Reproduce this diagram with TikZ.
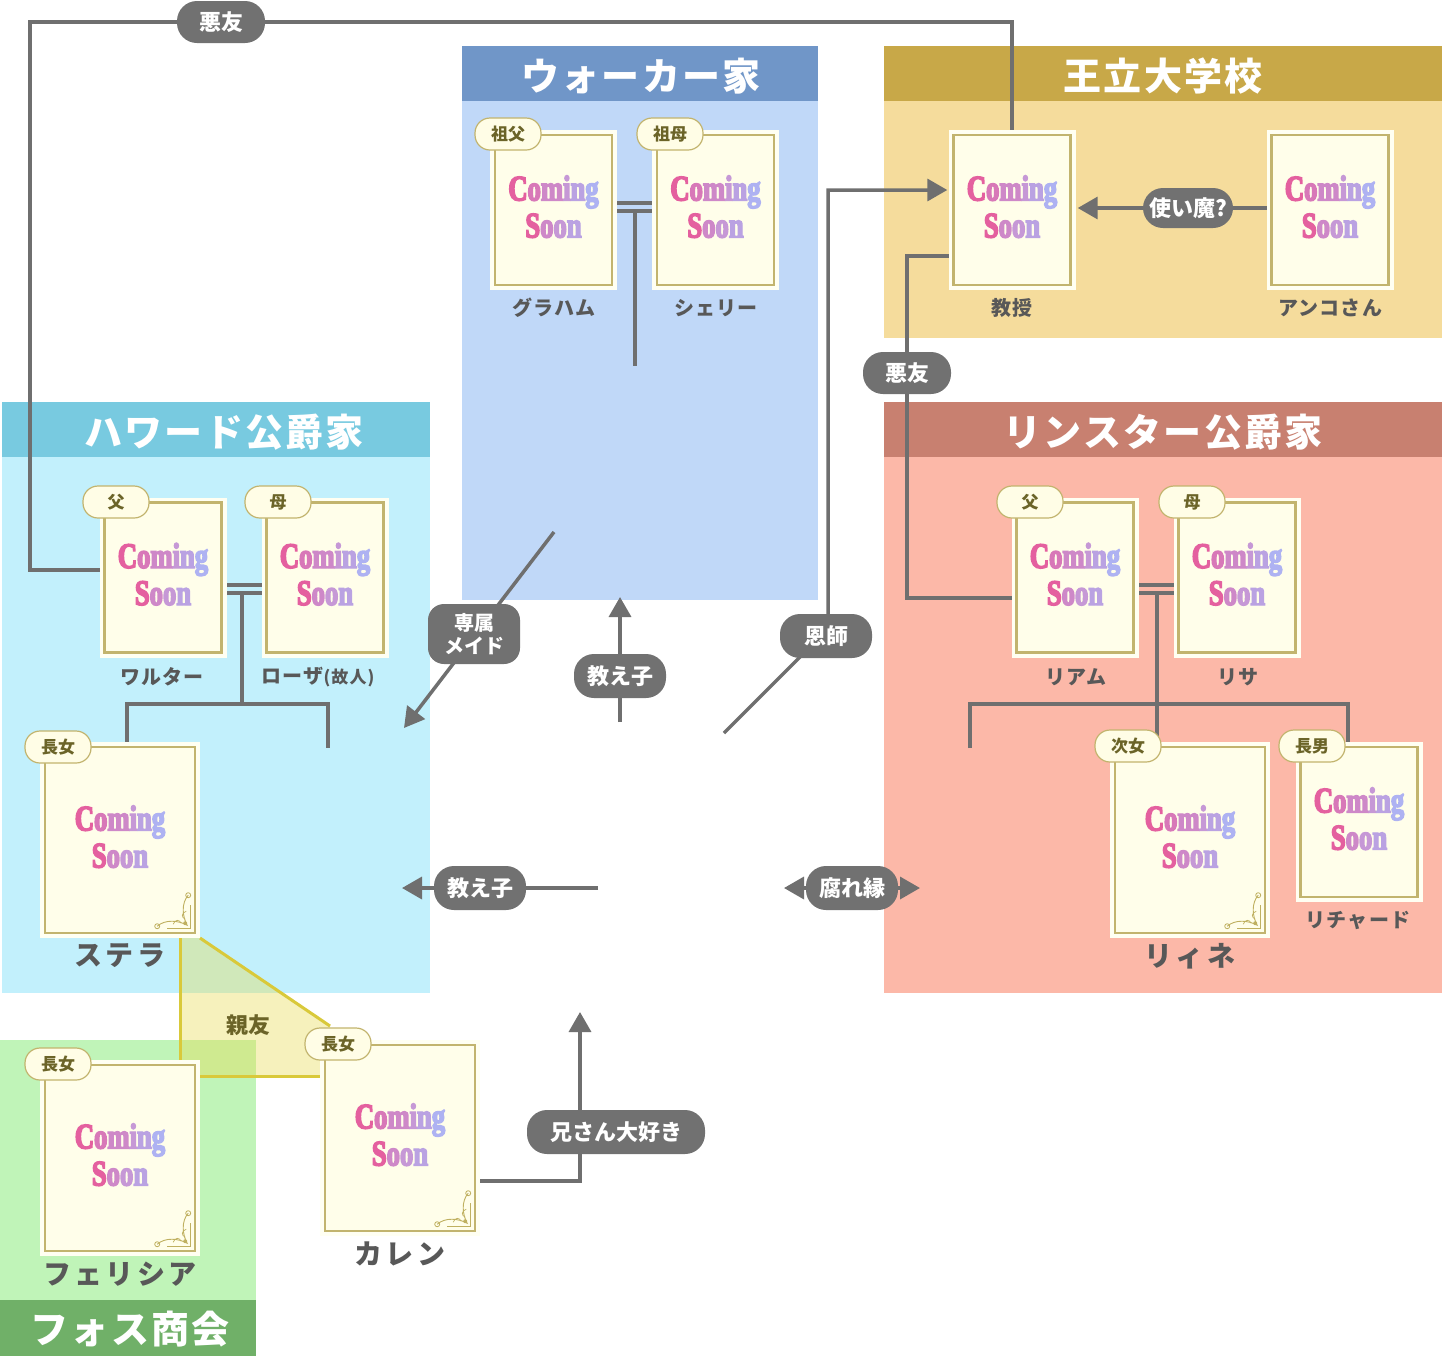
\documentclass[tikz,border=0pt]{standalone}
\usepackage{fontspec}
\setmainfont{Liberation Serif}
\newfontfamily\jp{Noto Sans CJK JP}
\newfontfamily\jptitle{Noto Sans CJK JP}[LetterSpace=6]
\newfontfamily\jpname{Noto Sans CJK JP}[LetterSpace=6]
\newfontfamily\jpbig{Noto Sans CJK JP}[LetterSpace=12]
\newfontfamily\csfont{Liberation Serif Bold}[FakeStretch=0.74, FakeBold=4]
\usetikzlibrary{arrows.meta}
\definecolor{connc}{HTML}{6F6F6F}
\definecolor{pillc}{HTML}{717171}
\definecolor{walkerH}{HTML}{7096C8}
\definecolor{walkerB}{HTML}{C0D8F8}
\definecolor{univH}{HTML}{C8A848}
\definecolor{univB}{HTML}{F5DC9C}
\definecolor{howH}{HTML}{78CAE0}
\definecolor{howB}{HTML}{C2F0FC}
\definecolor{rinH}{HTML}{C88070}
\definecolor{rinB}{HTML}{FCB8A8}
\definecolor{fosH}{HTML}{70B068}
\definecolor{fosB}{HTML}{C0F4B8}
\definecolor{cardout}{HTML}{FFFFF2}
\definecolor{cardin}{HTML}{FFFEEA}
\definecolor{cardline}{HTML}{C2B46E}
\definecolor{tabfill}{HTML}{FFFDE6}
\definecolor{tabtext}{HTML}{6B6428}
\definecolor{namec}{HTML}{585858}
\definecolor{friendline}{HTML}{D9C93A}
\definecolor{friendfill}{HTML}{E8DC50}
\definecolor{ornc}{HTML}{BFB060}
\definecolor{csa}{HTML}{E4609F}
\definecolor{csb}{HTML}{D878B8}
\definecolor{csc}{HTML}{CE88C8}
\definecolor{csd}{HTML}{C698D6}
\definecolor{cse}{HTML}{BAA2E2}
\definecolor{csf}{HTML}{AEB2F2}
\newcommand\cmsn{\textcolor{csa}{C}\textcolor{csb}{o}\textcolor{csc}{m}\textcolor{csd}{i}\textcolor{cse}{n}\textcolor{csf}{g}\\\textcolor{csa}{S}\textcolor{csc}{o}\textcolor{csd}{o}\textcolor{cse}{n}}
\begin{document}
\begin{tikzpicture}[x=1pt,y=-1pt,
  conn/.style={draw=connc, line width=3.5pt},
  arr/.style={conn, -{Triangle[length=20pt,width=22pt]}},
  dblarr/.style={conn, {Triangle[length=20pt,width=22pt]}-{Triangle[length=20pt,width=22pt]}},
  pill/.style={fill=pillc, text=white, rounded corners=20pt, minimum height=42pt, minimum width=88pt, inner sep=3pt, font=\jp\bfseries\fontsize{22}{25}\selectfont, align=center},
  title/.style={text=white, font=\jptitle\bfseries\fontsize{38}{40}\selectfont},
  card/.style={draw=cardline, line width=2.5pt, fill=cardin, preaction={draw=cardout, line width=10pt}, align=center, inner sep=0pt, text depth=7pt, font=\csfont\fontsize{36}{37}\selectfont},
  cardS/.style={card, minimum width=117pt, minimum height=150pt},
  cardL/.style={card, minimum width=150pt, minimum height=186pt},
  ghostS/.style={minimum width=117pt, minimum height=150pt, inner sep=0pt},
  ghostL/.style={minimum width=150pt, minimum height=186pt, inner sep=0pt},
  tab/.style={fill=tabfill, draw=cardline, line width=1.2pt, rounded corners=15pt, minimum width=66pt, minimum height=32pt, inner sep=0pt, text=tabtext, font=\jp\bfseries\fontsize{17}{17}\selectfont},
  pname/.style={text=namec, font=\jpname\bfseries\fontsize{20}{22}\selectfont},
  bname/.style={text=namec, font=\jpbig\bfseries\fontsize{28}{30}\selectfont},
  ornament/.pic={
    \draw[ornc, line width=0.9pt] (-38,-7) .. controls (-30,-14) and (-17,-13) .. (-8,-8) .. controls (-13,-17) and (-14,-30) .. (-7,-38);
    \draw[ornc, line width=0.8pt] (-38,-7) circle (2.5pt) (-7,-38) circle (2.5pt);
    \draw[ornc, line width=0.8pt] (-28,-5) -- (-5,-5) -- (-5,-28);
    \draw[ornc, line width=0.7pt] (-22,-9) .. controls (-20,-14) and (-16,-14) .. (-14,-10) (-9,-22) .. controls (-14,-20) and (-14,-16) .. (-10,-14);
    \fill[ornc] (-10,-10) circle (2pt);
  }]
\fill[white] (0,0) rectangle (1442,1366);
\useasboundingbox (0,0) rectangle (1442,1366);
% ---------- group boxes
\fill[walkerB] (462,46) rectangle (818,600);
\fill[walkerH] (462,46) rectangle (818,101);
\fill[univB] (884,46) rectangle (1442,338);
\fill[univH] (884,46) rectangle (1442,101);
\fill[howB] (2,402) rectangle (430,993);
\fill[howH] (2,402) rectangle (430,457);
\fill[rinB] (884,402) rectangle (1442,993);
\fill[rinH] (884,402) rectangle (1442,457);
\fill[fosB] (0,1040) rectangle (256,1300);
\fill[fosH] (0,1300) rectangle (256,1356);
\node[title] (walkerT) at (641,76) {ウォーカー家};
\node[title] (univT) at (1163,76) {王立大学校};
\node[title] (howT) at (224,432) {ハワード公爵家};
\node[title] (rinT) at (1163,432) {リンスター公爵家};
\node[title] (fosT) at (130,1329) {フォス商会};
% ---------- friendship area
\fill[friendfill, opacity=0.38] (180,938) -- (200,938) -- (330,1026) -- (330,1076) -- (180,1076) -- cycle;
\draw[friendline, line width=3pt] (180,938) -- (180,1076) -- (330,1076);
\draw[friendline, line width=3pt] (200,938) -- (330,1026);
\node[text=tabtext, font=\jp\bfseries\fontsize{22}{24}\selectfont] (shinyu) at (248,1025) {親友};
% ---------- card anchors (cards are drawn on top later)
\node[ghostS] (graham) at (553.5,210) {};
\node[ghostS] (shelley) at (715.5,210) {};
\node[ghostS] (prof) at (1012,210) {};
\node[ghostS] (anko) at (1330,210) {};
\node[ghostS] (walter) at (163,577.5) {};
\node[ghostS] (rosa) at (325,577.5) {};
\node[ghostS] (liam) at (1075,577.5) {};
\node[ghostS] (lisa) at (1237,577.5) {};
\node[ghostL] (stella) at (120,840) {};
\node[ghostL] (lyne) at (1190,840) {};
\node[ghostS] (richard) at (1359,822) {};
\node[ghostL] (felicia) at (120,1158) {};
\node[ghostL] (karen) at (400,1138) {};
% ---------- family lines
\coordinate (wkend) at (635,366);
\draw[conn] ([yshift=7pt]graham.east) -- ([yshift=7pt]shelley.west);
\draw[conn] ([yshift=-1pt]graham.east) -- ([yshift=-1pt]shelley.west);
\draw[conn] (635,211) -- (wkend);
\draw[conn] ([yshift=-7.5pt]walter.east) -- ([yshift=-7.5pt]rosa.west);
\draw[conn] ([yshift=-15.5pt]walter.east) -- ([yshift=-15.5pt]rosa.west);
\coordinate (howR) at (328,748);
\coordinate (stTop) at (127,744);
\draw[conn] (242,593) -- (242,704);
\draw[conn] (stTop) -- (127,704) -- (328,704) -- (howR);
\draw[conn] ([yshift=-7.5pt]liam.east) -- ([yshift=-7.5pt]lisa.west);
\draw[conn] ([yshift=-15.5pt]liam.east) -- ([yshift=-15.5pt]lisa.west);
\coordinate (rinL) at (970,748);
\draw[conn] (1157,593) -- (1157,744);
\draw[conn] (rinL) -- (970,704) -- (1348,704) -- (1348,744);
% ---------- relation connectors
\draw[conn] (prof.north) -- (1012,22) -- (30,22) -- (30,570) -- ([yshift=7.5pt]walter.west);
\draw[conn] ([yshift=-46pt]prof.west) -- (907,256) -- (907,598) -- ([yshift=-20.5pt]liam.west);
\draw[arr, shorten >=7pt] ([yshift=2pt]anko.west) -- ([yshift=2pt]prof.east);
\coordinate (onA) at (724,733);
\draw[arr, shorten >=6pt] (onA) -- (828,629) -- (828,190) -- ([yshift=20pt]prof.west);
\coordinate (maidA) at (554,532);
\coordinate (maidB) at (404,728);
\draw[arr] (maidA) -- (maidB);
\coordinate (oshA) at (620,722);
\coordinate (oshB) at (620,597);
\draw[arr] (oshA) -- (oshB);
\coordinate (osh2A) at (598,888);
\coordinate (osh2B) at (402,888);
\draw[arr] (osh2A) -- (osh2B);
\coordinate (kusA) at (784,888);
\coordinate (kusB) at (920,888);
\draw[dblarr] (kusA) -- (kusB);
\coordinate (niiB) at (580,1012);
\draw[arr] ([yshift=-43pt]karen.east) -- (580,1181) -- (niiB);
% ---------- pills
\node[pill] (p1) at (221,22) {悪友};
\node[pill] (p2) at (907,373) {悪友};
\node[pill, minimum width=90pt, minimum height=40pt] (p3) at (1188,208) {使い魔?};
\node[pill, minimum width=92pt, minimum height=60pt, rounded corners=16pt, font=\jp\bfseries\fontsize{20}{23}\selectfont] (p4) at (474,634) {専属\\メイド};
\node[pill, minimum width=92pt, minimum height=44pt] (p5) at (620,676) {教え子};
\node[pill, minimum width=92pt, minimum height=44pt] (p6) at (826,636) {恩師};
\node[pill, minimum width=92pt, minimum height=44pt] (p7) at (480,888) {教え子};
\node[pill, minimum width=92pt, minimum height=44pt] (p8) at (852,888) {腐れ縁};
\node[pill, minimum width=178pt, minimum height=44pt] (p9) at (616,1132) {兄さん大好き};
% ---------- cards
\node[cardS] (cgraham) at (graham) {\cmsn};
\node[cardS] (cshelley) at (shelley) {\cmsn};
\node[cardS] (cprof) at (prof) {\cmsn};
\node[cardS] (canko) at (anko) {\cmsn};
\node[cardS] (cwalter) at (walter) {\cmsn};
\node[cardS] (crosa) at (rosa) {\cmsn};
\node[cardS] (cliam) at (liam) {\cmsn};
\node[cardS] (clisa) at (lisa) {\cmsn};
\node[cardL] (cstella) at (stella) {\cmsn};
\node[cardL] (clyne) at (lyne) {\cmsn};
\node[cardS] (crichard) at (richard) {\cmsn};
\node[cardL] (cfelicia) at (felicia) {\cmsn};
\node[cardL] (ckaren) at (karen) {\cmsn};
\pic at (stella.south east) {ornament};
\pic at (lyne.south east) {ornament};
\pic at (felicia.south east) {ornament};
\pic at (karen.south east) {ornament};
% ---------- tabs
\node[tab] (tgraham) at (508,134) {祖父};
\node[tab] (tshelley) at (670,134) {祖母};
\node[tab] (twalter) at (116,502) {父};
\node[tab] (trosa) at (278,502) {母};
\node[tab] (tliam) at (1030,502) {父};
\node[tab] (tlisa) at (1192,502) {母};
\node[tab] (tstella) at (58,747) {長女};
\node[tab] (tlyne) at (1128,746) {次女};
\node[tab] (trichard) at (1312,746) {長男};
\node[tab] (tfelicia) at (58,1064) {長女};
\node[tab] (tkaren) at (338,1044) {長女};
% ---------- names
\node[pname] (ngraham) at (554,308) {グラハム};
\node[pname] (nshelley) at (716,308) {シェリー};
\node[pname] (nprof) at (1012,308) {教授};
\node[pname] (nanko) at (1330,308) {アンコさん};
\node[pname] (nwalter) at (162,677) {ワルター};
\node[pname] (nrosa) at (318,677) {ローザ{\fontsize{17}{20}\selectfont (故人)}};
\node[pname] (nliam) at (1076,677) {リアム};
\node[pname] (nlisa) at (1238,677) {リサ};
\node[pname] (nrichard) at (1358,920) {リチャード};
\node[bname] (nstella) at (120,956) {ステラ};
\node[bname] (nlyne) at (1190,956) {リィネ};
\node[bname] (nfelicia) at (120,1274) {フェリシア};
\node[bname] (nkaren) at (400,1254) {カレン};
\end{tikzpicture}
\end{document}
